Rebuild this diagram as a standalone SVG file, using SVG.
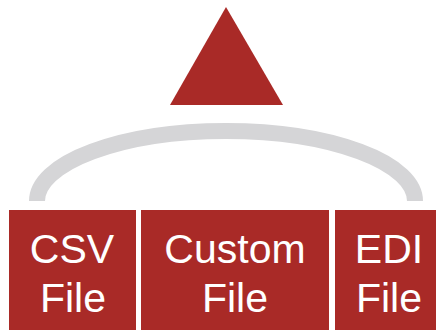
<svg xmlns="http://www.w3.org/2000/svg" width="440" height="331" viewBox="0 0 440 331">
<style>
.box{fill:#a92a27}
.lbl{font-family:"Liberation Sans",Arial,sans-serif;font-size:41px;fill:#fff;text-anchor:middle}
.arc{fill:none;stroke:#d5d5d7;stroke-width:16}
</style>
<rect width="440" height="331" fill="#fff"/>
<g id="connectors">
<path class="arc" d="M37,201 A189,70 0 0 1 415,201"/>
</g>
<g id="target">
<polygon class="box" points="226,7 283,105 170,105"/>
</g>
<g id="csv">
<rect class="box" x="9" y="210" width="127" height="120"/>
<text class="lbl" x="72" y="263">CSV</text>
<text class="lbl" x="73" y="312">File</text>
</g>
<g id="custom">
<rect class="box" x="141" y="210" width="188" height="120"/>
<text class="lbl" x="235" y="263">Custom</text>
<text class="lbl" x="235" y="312">File</text>
</g>
<g id="edi">
<rect class="box" x="335" y="210" width="101" height="120"/>
<text class="lbl" x="389" y="263">EDI</text>
<text class="lbl" x="389" y="312">File</text>
</g>
</svg>
